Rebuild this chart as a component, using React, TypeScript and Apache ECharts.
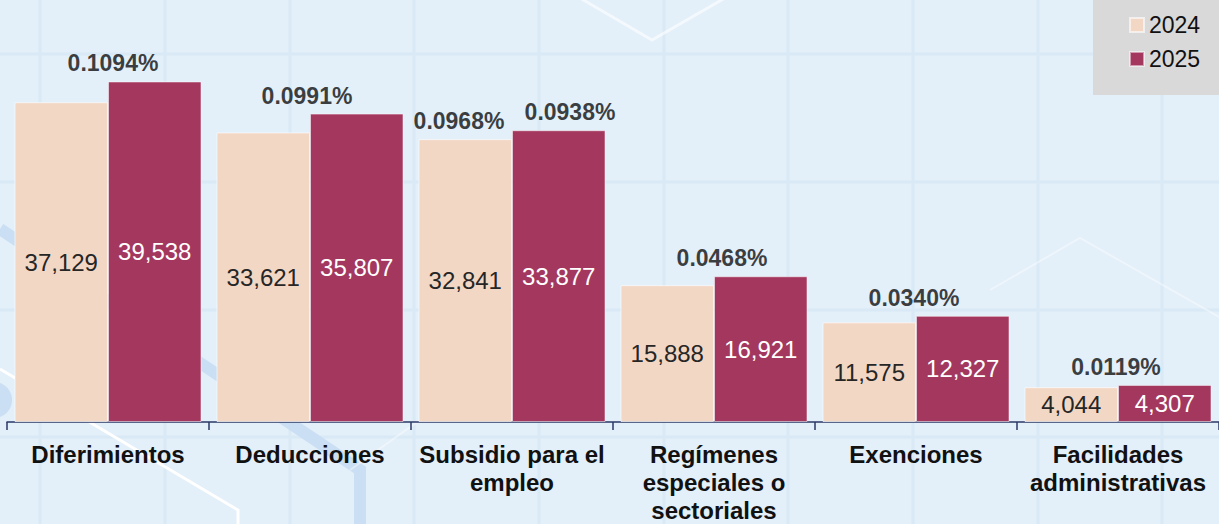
import React, { useEffect, useRef } from "react";
import * as echarts from "echarts";

const categories = [
  "Diferimientos",
  "Deducciones",
  "Subsidio para el\nempleo",
  "Regímenes\nespeciales o\nsectoriales",
  "Exenciones",
  "Facilidades\nadministrativas",
];
const values2024 = [37129, 33621, 32841, 15888, 11575, 4044];
const values2025 = [39538, 35807, 33877, 16921, 12327, 4307];
const pct2025 = ["0.1094%", "0.0991%", "0.0938%", "0.0468%", "0.0340%", "0.0119%"];
const pct2024 = [null, null, "0.0968%", null, null, null];
const seriesNames = ["2024", "2025"];

// label x-offsets (style only)
const pct2025Offset = [5, -3, 58, 8, -2, -2];
const pct2024Offset = [0, 0, -53, 0, 0, 0];

const FONT = "'Liberation Sans', Arial, Helvetica, sans-serif";
const C2024 = "#f3d7c5";
const C2025 = "#a4375e";

function buildGraphic() {
  const els: any[] = [];
  const vx = [40, 165, 290, 414, 539, 664, 788, 913, 1038, 1162];
  const hy = [54, 182, 310, 437];
  vx.forEach((x) =>
    els.push({
      type: "line",
      silent: true,
      z: -10,
      shape: { x1: x, y1: 0, x2: x, y2: 524 },
      style: { stroke: "#d9e9f6", lineWidth: 3 },
    })
  );
  hy.forEach((y) =>
    els.push({
      type: "line",
      silent: true,
      z: -10,
      shape: { x1: 0, y1: y, x2: 1219, y2: y },
      style: { stroke: "#d9e9f6", lineWidth: 3 },
    })
  );
  els.push({
    type: "circle",
    silent: true,
    z: -9,
    shape: { cx: -6, cy: 400, r: 18 },
    style: { fill: "#cadff3" },
  });
  els.push({
    type: "polyline",
    silent: true,
    z: -9,
    shape: { points: [[0, 229], [360, 470], [360, 530]] },
    style: { stroke: "#cadff3", lineWidth: 12, fill: null },
  });
  els.push({
    type: "polyline",
    silent: true,
    z: -8,
    shape: { points: [[0, 369], [238, 510], [238, 530]] },
    style: { stroke: "#ffffff", lineWidth: 3, fill: null },
  });
  els.push({
    type: "polyline",
    silent: true,
    z: -8,
    shape: { points: [[580, -2], [652, 40], [725, -2]] },
    style: { stroke: "rgba(255,255,255,0.6)", lineWidth: 3, fill: null },
  });
  els.push({
    type: "polyline",
    silent: true,
    z: -8,
    shape: { points: [[990, 290], [1080, 238], [1219, 317]] },
    style: { stroke: "rgba(255,255,255,0.4)", lineWidth: 2, fill: null },
  });
  els.push({
    type: "polyline",
    silent: true,
    z: -8,
    shape: { points: [[350, 470], [420, 420], [470, 400]] },
    style: { stroke: "rgba(255,255,255,0.4)", lineWidth: 2, fill: null },
  });
  els.push({
    type: "rect",
    silent: true,
    z: 1,
    shape: { x: 1093, y: 0, width: 130, height: 95 },
    style: { fill: "#d9d9d9" },
  });
  return els;
}

export default function App() {
  const ref = useRef<HTMLDivElement>(null);

  useEffect(() => {
    if (!ref.current) return;
    const chart = echarts.init(ref.current, null, { renderer: "svg" });

    const pctData: any[] = [];
    pct2025.forEach((p, i) => {
      if (p)
        pctData.push({
          value: [i, values2025[i]],
          name: p,
          label: { offset: [pct2025Offset[i], 0] },
        });
    });
    pct2024.forEach((p, i) => {
      if (p)
        pctData.push({
          value: [i, values2024[i]],
          name: p,
          label: { offset: [pct2024Offset[i], 0] },
        });
    });

    const option: any = {
      animation: false,
      backgroundColor: "#e3eff9",
      textStyle: { fontFamily: FONT },
      graphic: buildGraphic(),
      legend: {
        data: seriesNames,
        orient: "vertical",
        left: 1129,
        top: 13,
        itemWidth: 14,
        itemHeight: 14,
        itemGap: 10,
        icon: "rect",
        padding: 0,
        textStyle: { fontSize: 23, color: "#111", fontFamily: FONT, lineHeight: 24 },
        z: 5,
      },
      grid: { left: 7, right: -4, top: 0, bottom: 102, containLabel: false },
      xAxis: {
        type: "category",
        data: categories,
        axisLine: { lineStyle: { color: "#2b3866", width: 1.5 } },
        axisTick: { show: true, length: 8, lineStyle: { color: "#2b3866", width: 1.5 } },
        axisLabel: {
          interval: 0,
          margin: 18,
          fontSize: 24,
          fontWeight: "bold",
          lineHeight: 28,
          color: "#111",
          fontFamily: FONT,
        },
      },
      yAxis: {
        type: "value",
        min: 0,
        max: 49000,
        show: false,
        splitLine: { show: false },
      },
      series: [
        {
          name: seriesNames[0],
          type: "bar",
          data: values2024,
          barWidth: 93.5,
          barGap: "0%",
          itemStyle: { color: C2024, borderColor: "rgba(255,255,255,0.6)", borderWidth: 1 },
          label: {
            show: true,
            position: "inside",
            fontSize: 24,
            color: "#262626",
            fontFamily: FONT,
            formatter: (p: any) => Number(p.value).toLocaleString("en-US"),
          },
        },
        {
          name: seriesNames[1],
          type: "bar",
          data: values2025,
          barWidth: 93.5,
          barGap: "0%",
          itemStyle: { color: C2025, borderColor: "rgba(255,255,255,0.5)", borderWidth: 1 },
          label: {
            show: true,
            position: "inside",
            fontSize: 24,
            color: "#ffffff",
            fontFamily: FONT,
            formatter: (p: any) => Number(p.value).toLocaleString("en-US"),
          },
        },
        {
          name: "pct",
          type: "scatter",
          data: pctData,
          symbolSize: 1,
          itemStyle: { color: "rgba(0,0,0,0)" },
          z: 4,
          label: {
            show: true,
            position: "top",
            distance: 6,
            fontSize: 23,
            fontWeight: "bold",
            color: "#0d0d0d",
            fontFamily: FONT,
            formatter: (p: any) => p.name,
          },
        },
      ],
    };

    chart.setOption(option);
    return () => chart.dispose();
  }, []);

  return (
    <div
      ref={ref}
      style={{ position: "fixed", left: 0, top: 0, width: 1219, height: 524 }}
    />
  );
}
